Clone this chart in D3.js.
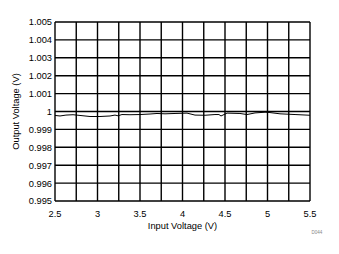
<!DOCTYPE html>
<html>
<head>
<meta charset="utf-8">
<script src="https://cdn.jsdelivr.net/npm/d3@7"></script>
<style>
  body { margin: 0; background: #fff; }
  text { font-family: Arial, "Liberation Sans", sans-serif; fill: #000; }
</style>
</head>
<body>
<svg id="chart" width="339" height="254"></svg>
<script>
// input voltage (V)
var vin = [2.5, 2.559, 2.629, 2.712, 2.794, 2.912, 3.029, 3.147, 3.206, 3.241, 3.288, 3.382,
    3.5, 3.618, 3.7, 3.794, 3.912, 4.053, 4.147, 4.265, 4.382, 4.429, 4.453, 4.524,
    4.676, 4.759, 4.853, 4.971, 5.029, 5.147, 5.324, 5.5];
// output voltage (V)
var vout = [0.99978, 0.99975, 0.99980, 0.99982, 0.99978, 0.99972, 0.99972, 0.99975, 0.99980, 0.99976, 0.99983, 0.99982,
    0.99983, 0.99986, 0.99989, 0.99987, 0.99989, 0.99991, 0.99980, 0.99979, 0.99983, 0.99983, 0.99975, 0.99991,
    0.99989, 0.99983, 0.99992, 0.99996, 0.99994, 0.99987, 0.99983, 0.99979];

var xTicks = [2.5, 3, 3.5, 4, 4.5, 5, 5.5];
var yTicks = [0.995, 0.996, 0.997, 0.998, 0.999, 1, 1.001, 1.002, 1.003, 1.004, 1.005];
var xGrid = d3.range(2.5, 5.5001, 0.25);

var svg = d3.select("#chart");
var mLeft = 55, mRight = 310, mTop = 22, mBottom = 201;

var x = d3.scaleLinear().domain([2.5, 5.5]).range([mLeft, mRight]);
var y = d3.scaleLinear().domain([0.995, 1.005]).range([mBottom, mTop]);

// grid
svg.append("g").selectAll("line")
    .data(xGrid)
    .enter().append("line")
    .attr("x1", function(d) { return x(d); })
    .attr("x2", function(d) { return x(d); })
    .attr("y1", mTop).attr("y2", mBottom)
    .style("stroke", "#000").style("stroke-width", 1.4);

svg.append("g").selectAll("line")
    .data(yTicks)
    .enter().append("line")
    .attr("x1", mLeft).attr("x2", mRight)
    .attr("y1", function(d) { return y(d); })
    .attr("y2", function(d) { return y(d); })
    .style("stroke", "#000").style("stroke-width", 1.4);

// tick labels
svg.append("g").selectAll("text")
    .data(xTicks)
    .enter().append("text")
    .attr("x", function(d) { return x(d); })
    .attr("y", 216.5)
    .attr("text-anchor", "middle")
    .style("font-size", "9.3px")
    .text(function(d) { return d; });

svg.append("g").selectAll("text")
    .data(yTicks)
    .enter().append("text")
    .attr("x", 52)
    .attr("y", function(d) { return y(d) + 3.4; })
    .attr("text-anchor", "end")
    .style("font-size", "9.3px")
    .text(function(d) { return d; });

// data line
var line = d3.line()
    .x(function(d, i) { return x(vin[i]); })
    .y(function(d) { return y(d); });

svg.append("path")
    .datum(vout)
    .attr("d", line)
    .style("fill", "none")
    .style("stroke", "#000")
    .style("stroke-width", 1);

// titles
svg.append("text")
    .attr("x", (mLeft + mRight) / 2)
    .attr("y", 229)
    .attr("text-anchor", "middle")
    .style("font-size", "9.3px")
    .text("Input Voltage (V)");

svg.append("text")
    .attr("transform", "translate(19," + ((mTop + mBottom) / 2) + ") rotate(-90)")
    .attr("text-anchor", "middle")
    .style("font-size", "9.3px")
    .text("Output Voltage (V)");

svg.append("text")
    .attr("x", 317)
    .attr("y", 234)
    .attr("text-anchor", "middle")
    .style("font-size", "4.5px")
    .style("fill", "#888")
    .text("D044");
</script>
</body>
</html>
